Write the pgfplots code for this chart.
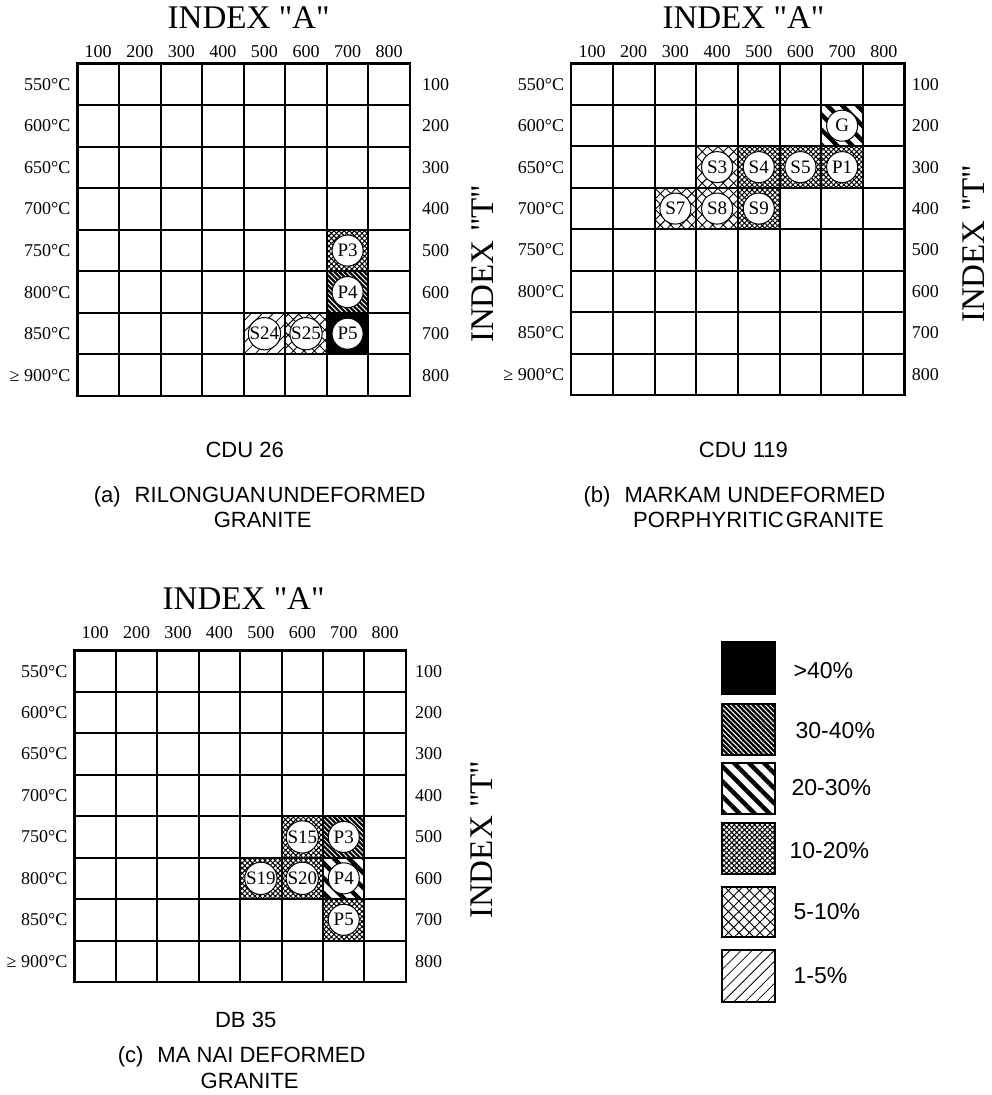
\documentclass[border=0pt]{standalone}
\usepackage{fontspec}
\setmainfont{Liberation Serif}[Ligatures=TeXOff]
\newfontfamily\sans{Liberation Sans}
\usepackage{pgfplots}
\pgfplotsset{compat=1.18}
\usetikzlibrary{patterns.meta}

\tikzset{
 p40/.style={fill=black},
 p30/.style={fill=black, postaction={pattern={Lines[angle=-45,distance=1.75pt,line width=0.5pt]}, pattern color=white}},
 p20/.style={fill=white, postaction={pattern={Lines[angle=-45,distance=5.3pt,line width=2.2pt]}, pattern color=black}},
 p10/.style={fill=white, postaction={pattern={Hatch[angle=45,distance=1.8pt,line width=0.5pt]}, pattern color=black}},
 p05/.style={fill=white, postaction={pattern={Hatch[angle=45,distance=3.7pt,line width=0.45pt]}, pattern color=black}},
 p01/.style={fill=white, postaction={pattern={Lines[angle=45,distance=3.9pt,line width=0.4pt]}, pattern color=black}},
}

\pgfplotsset{
 gridax/.style={
  scale only axis,
  xmin=0, xmax=8, ymin=0, ymax=8, y dir=reverse,
  axis on top, clip=false,
  xtick={0.5,1.5,2.5,3.5,4.5,5.5,6.5,7.5},
  xticklabels={100,200,300,400,500,600,700,800},
  xticklabel pos=upper,
  ytick={0.5,1.5,2.5,3.5,4.5,5.5,6.5,7.5},
  yticklabels={550°C,600°C,650°C,700°C,750°C,800°C,850°C,≥ 900°C},
  yticklabel pos=left,
  minor xtick={1,2,3,4,5,6,7}, minor ytick={1,2,3,4,5,6,7},
  xminorgrids=true, yminorgrids=true,
  minor grid style={black, line width=1pt},
  major tick length=0pt, minor tick length=0pt,
  axis line style={black, line width=1.3pt},
  tick label style={font=\fontsize{9}{10}\selectfont},
  /pgf/number format/assume math mode=true,
 },
 twinax/.style={
  scale only axis,
  xmin=0, xmax=8, ymin=0, ymax=8, y dir=reverse,
  xtick=\empty,
  ytick={0.5,1.5,2.5,3.5,4.5,5.5,6.5,7.5},
  yticklabels={100,200,300,400,500,600,700,800},
  yticklabel pos=right,
  major tick length=0pt,
  axis line style={draw=none},
  tick label style={font=\fontsize{9}{10}\selectfont},
  /pgf/number format/assume math mode=true,
 },
 circ/.style={
  only marks, mark=none,
  nodes near coords, point meta=explicit symbolic,
  every node near coord/.append style={anchor=center},
  nodes near coords style={circle, draw=black, fill=white, line width=0.5pt,
     inner sep=0pt, minimum size=15.5pt, anchor=center,
     font=\fontsize{9.5}{10}\selectfont},
 },
}

\begin{document}
\begin{tikzpicture}
% ---------- panel (a) ----------
\begin{axis}[gridax, width=166pt, height=166pt, at={(40pt,-35pt)}, anchor=north west,
   xticklabel style={yshift=-0.5pt}]
\addplot[p10] coordinates {(6,4) (7,4) (7,5) (6,5)} -- cycle;
\addplot[p30] coordinates {(6,5) (7,5) (7,6) (6,6)} -- cycle;
\addplot[p40] coordinates {(6,6) (7,6) (7,7) (6,7)} -- cycle;
\addplot[p01] coordinates {(4,6) (5,6) (5,7) (4,7)} -- cycle;
\addplot[p05] coordinates {(5,6) (6,6) (6,7) (5,7)} -- cycle;
\addplot[circ] table[x=x, y=y, meta=label] {
x y label
6.5 4.5 P3
6.5 5.5 P4
6.5 6.5 P5
4.5 6.5 S24
5.5 6.5 S25
};
\end{axis}
\begin{axis}[twinax, width=166pt, height=166pt, at={(40pt,-35pt)}, anchor=north west,
   yticklabel style={xshift=2.5pt}]
\end{axis}

% ---------- panel (b) ----------
\begin{axis}[gridax, width=166.5pt, height=165.5pt, at={(286.5pt,-35pt)}, anchor=north west,
   xticklabel style={yshift=-0.5pt}]
\addplot[p20] coordinates {(6,1) (7,1) (7,2) (6,2)} -- cycle;
\addplot[p05] coordinates {(3,2) (4,2) (4,3) (3,3)} -- cycle;
\addplot[p10] coordinates {(4,2) (5,2) (5,3) (4,3)} -- cycle;
\addplot[p10] coordinates {(5,2) (6,2) (6,3) (5,3)} -- cycle;
\addplot[p10] coordinates {(6,2) (7,2) (7,3) (6,3)} -- cycle;
\addplot[p05] coordinates {(2,3) (3,3) (3,4) (2,4)} -- cycle;
\addplot[p05] coordinates {(3,3) (4,3) (4,4) (3,4)} -- cycle;
\addplot[p10] coordinates {(4,3) (5,3) (5,4) (4,4)} -- cycle;
\addplot[circ] table[x=x, y=y, meta=label] {
x y label
6.5 1.5 G
3.5 2.5 S3
4.5 2.5 S4
5.5 2.5 S5
6.5 2.5 P1
2.5 3.5 S7
3.5 3.5 S8
4.5 3.5 S9
};
\end{axis}
\begin{axis}[twinax, width=166.5pt, height=165.5pt, at={(286.5pt,-35pt)}, anchor=north west]
\end{axis}

% ---------- panel (c) ----------
\begin{axis}[gridax, width=165.5pt, height=165.5pt, at={(38.5pt,-328pt)}, anchor=north west,
   xticklabel style={yshift=2.5pt}]
\addplot[p10] coordinates {(5,4) (6,4) (6,5) (5,5)} -- cycle;
\addplot[p30] coordinates {(6,4) (7,4) (7,5) (6,5)} -- cycle;
\addplot[p10] coordinates {(4,5) (5,5) (5,6) (4,6)} -- cycle;
\addplot[p10] coordinates {(5,5) (6,5) (6,6) (5,6)} -- cycle;
\addplot[p20] coordinates {(6,5) (7,5) (7,6) (6,6)} -- cycle;
\addplot[p10] coordinates {(6,6) (7,6) (7,7) (6,7)} -- cycle;
\addplot[circ] table[x=x, y=y, meta=label] {
x y label
5.5 4.5 S15
6.5 4.5 P3
4.5 5.5 S19
5.5 5.5 S20
6.5 5.5 P4
6.5 6.5 P5
};
\end{axis}
\begin{axis}[twinax, width=165.5pt, height=165.5pt, at={(38.5pt,-328pt)}, anchor=north west,
   yticklabel style={xshift=1pt}]
\end{axis}

% ---------- overlay axis in pixel units: legend and texts ----------
\begin{axis}[at={(0pt,0pt)}, anchor=north west, scale only axis,
  width=495pt, height=547.5pt,
  xmin=0, xmax=990, ymin=0, ymax=1095, y dir=reverse,
  hide axis, clip=false]
% legend boxes
\addplot[p40] coordinates {(724,648) (776,648) (776,699) (724,699)} -- cycle;
\addplot[p30] coordinates {(724,709) (776,709) (776,760) (724,760)} -- cycle;
\addplot[p20] coordinates {(724,768) (776,768) (776,819) (724,819)} -- cycle;
\addplot[p10] coordinates {(724,828) (776,828) (776,879) (724,879)} -- cycle;
\addplot[p05] coordinates {(724,892) (776,892) (776,942) (724,942)} -- cycle;
\addplot[p01] coordinates {(724,955) (776,955) (776,1007) (724,1007)} -- cycle;
% legend box outlines
\addplot[draw=black, line width=1pt] coordinates {(724,648) (776,648) (776,699) (724,699)} -- cycle;
\addplot[draw=black, line width=1pt] coordinates {(724,709) (776,709) (776,760) (724,760)} -- cycle;
\addplot[draw=black, line width=1pt] coordinates {(724,768) (776,768) (776,819) (724,819)} -- cycle;
\addplot[draw=black, line width=1pt] coordinates {(724,828) (776,828) (776,879) (724,879)} -- cycle;
\addplot[draw=black, line width=1pt] coordinates {(724,892) (776,892) (776,942) (724,942)} -- cycle;
\addplot[draw=black, line width=1pt] coordinates {(724,955) (776,955) (776,1007) (724,1007)} -- cycle;
\begin{scope}[every node/.style={anchor=west, font=\sans\fontsize{11.5}{12}\selectfont}]
\node at (axis cs:788,676) {>40\%};
\node at (axis cs:790,736) {30-40\%};
\node at (axis cs:786,793) {20-30\%};
\node at (axis cs:784,856) {10-20\%};
\node at (axis cs:788,917) {5-10\%};
\node at (axis cs:788,981) {1-5\%};
\end{scope}
% titles
\begin{scope}[every node/.style={anchor=base, font=\fontsize{16.5}{18}\selectfont}]
\node at (axis cs:251,35) {INDEX "A"};
\node at (axis cs:745,35) {INDEX "A"};
\node at (axis cs:246,615) {INDEX "A"};
\end{scope}
\begin{scope}[every node/.style={rotate=90, anchor=center, font=\fontsize{16.5}{18}\selectfont}]
\node at (axis cs:485,270) {INDEX "T"};
\node at (axis cs:975,250) {INDEX "T"};
\node at (axis cs:484,845) {INDEX "T"};
\end{scope}
% captions
\begin{scope}[every node/.style={anchor=base, font=\sans\fontsize{11}{12}\selectfont}]
\node at (axis cs:247,463) {CDU 26};
\node at (axis cs:262,508) {(a)\hspace{7pt}RILONGUAN\hspace{1pt}UNDEFORMED};
\node at (axis cs:265,533) {GRANITE};
\node at (axis cs:745,463) {CDU 119};
\node at (axis cs:736,508) {(b)\hspace{7pt}MARKAM UNDEFORMED};
\node at (axis cs:760,533) {PORPHYRITIC\hspace{1pt}GRANITE};
\node at (axis cs:248,1032) {DB 35};
\node at (axis cs:244,1067) {(c)\hspace{7pt}MA NAI DEFORMED};
\node at (axis cs:252,1093) {GRANITE};
\end{scope}
\end{axis}
\end{tikzpicture}
\end{document}
